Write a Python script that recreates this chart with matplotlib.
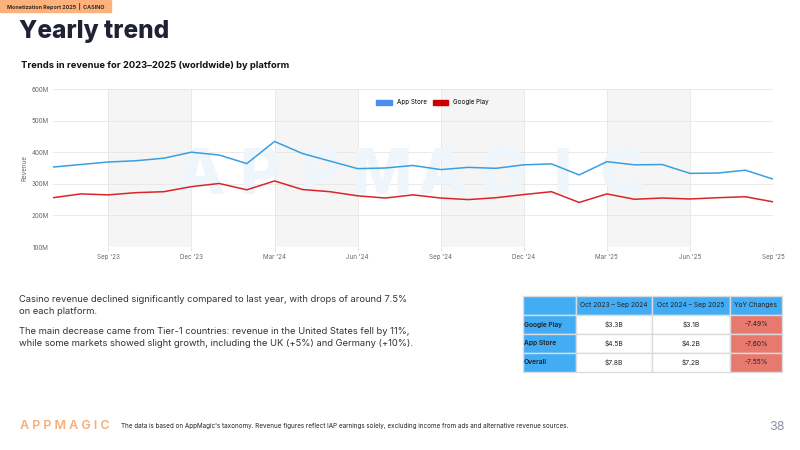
import numpy as np
import matplotlib.pyplot as plt
from matplotlib.patches import Rectangle, Patch

plt.rcParams['font.family'] = ['Inter', 'DejaVu Sans']

months = ["Jul '23", "Aug '23", "Sep '23", "Oct '23", "Nov '23", "Dec '23",
          "Jan '24", "Feb '24", "Mar '24", "Apr '24", "May '24", "Jun '24",
          "Jul '24", "Aug '24", "Sep '24", "Oct '24", "Nov '24", "Dec '24",
          "Jan '25", "Feb '25", "Mar '25", "Apr '25", "May '25", "Jun '25",
          "Jul '25", "Aug '25", "Sep '25"]
# revenue, millions USD
app_store = [353, 361, 369, 373, 381, 400, 391, 364, 434, 396, 372, 348, 350, 358,
             345, 352, 349, 360, 363, 328, 370, 360, 361, 333, 334, 343, 315]
google_play = [256, 268, 265, 272, 275, 291, 301, 281, 309, 282, 275, 262, 255, 265,
               255, 250, 256, 266, 275, 241, 268, 251, 255, 252, 256, 259, 243]
tick_months = ["Sep '23", "Dec '23", "Mar '24", "Jun '24", "Sep '24",
               "Dec '24", "Mar '25", "Jun '25", "Sep '25"]
shaded = [("Sep '23", "Dec '23"), ("Mar '24", "Jun '24"),
          ("Sep '24", "Dec '24"), ("Mar '25", "Jun '25")]

tbl_cols = ["", "Oct 2023 – Sep 2024", "Oct 2024 – Sep 2025", "YoY Changes"]
tbl_rows = ["Google Play", "App Store", "Overall"]
tbl_prev = ["$3.3B", "$4.5B", "$7.8B"]
tbl_curr = ["$3.1B", "$4.2B", "$7.2B"]
tbl_yoy = ["-7.49%", "-7.60%", "-7.55%"]

W, H = 800, 450
fig = plt.figure(figsize=(8, 4.5), dpi=100)


def fx(x):
    return x / W


def fy(y):
    return 1 - y / H


dark = '#1f2235'
# header tab
fig.patches.append(Rectangle((0, fy(12)), fx(111), 12 / H, transform=fig.transFigure,
                             color='#fdb17b', zorder=0))
fig.text(fx(7), fy(6.5), "Monetization Report 2025  |  CASINO", fontsize=3.9,
         fontweight='bold', color='#3a2c20', va='center')
fig.text(fx(19), fy(38), "Yearly trend", fontsize=17.5, fontweight='heavy',
         color=dark, va='baseline')
fig.text(fx(21), fy(68), "Trends in revenue for 2023–2025 (worldwide) by platform",
         fontsize=6.75, fontweight='bold', color='#111111', va='baseline')

# chart
ax = fig.add_axes([fx(53), fy(247), fx(773 - 53), (247 - 89) / H])
x = np.arange(len(months))
for a, b in shaded:
    ax.axvspan(months.index(a), months.index(b), color='#f5f5f5', lw=0, zorder=0)
ax.plot(x, app_store, color='#3a9fe0', lw=1.1, zorder=3)
ax.plot(x, google_play, color='#d9252a', lw=1.1, zorder=3)

wm = "APPMAGIC"
for i, ch in enumerate(wm):
    ax.text(fx(200 + i * 60.5), fy(177), ch, transform=fig.transFigure, fontsize=46,
            fontweight='heavy', color='#eef6fc', ha='center', va='center', zorder=1)

ax.set_xlim(0, len(months) - 1)
ax.set_ylim(100, 600)
ax.set_yticks([100, 200, 300, 400, 500, 600])
ax.set_yticklabels([f"{v}M" for v in [100, 200, 300, 400, 500, 600]])
ax.set_xticks([months.index(m) for m in tick_months])
ax.set_xticklabels(tick_months)
ax.grid(True, color='#e6e6e6', lw=0.6, zorder=0.5)
ax.set_axisbelow(True)
for s in ax.spines.values():
    s.set_visible(False)
ax.tick_params(axis='x', length=3, color='#e6e6e6', labelsize=4.5, labelcolor='#666666', pad=2)
ax.tick_params(axis='y', length=0, labelsize=4.5, labelcolor='#666666', pad=3)
ax.set_ylabel("Revenue", fontsize=4.5, color='#666666', labelpad=3)
ax.legend(handles=[Patch(color='#4a8cf0', label='App Store'),
                   Patch(color='#cc0000', label='Google Play')],
          loc='upper center', bbox_to_anchor=(0.527, 0.97), ncol=2, frameon=False,
          fontsize=4.5, handlelength=2.5, handleheight=0.9, columnspacing=1.0)

# body text
body = ["Casino revenue declined significantly compared to last year, with drops of around 7.5%",
        "on each platform.",
        "The main decrease came from Tier-1 countries: revenue in the United States fell by 11%,",
        "while some markets showed slight growth, including the UK (+5%) and Germany (+10%)."]
for line, yb in zip(body, [302, 314, 334, 346]):
    fig.text(fx(19), fy(yb), line, fontsize=6.75, color='#333333', va='baseline')

# table
tax = fig.add_axes([fx(523), fy(372), fx(782 - 523), (372 - 296) / H])
tax.axis('off')
cells = [tbl_cols] + [[r, p, c, y] for r, p, c, y in zip(tbl_rows, tbl_prev, tbl_curr, tbl_yoy)]
tb = tax.table(cellText=cells, bbox=[0, 0, 1, 1],
               colWidths=[53, 76, 78, 52], cellLoc='center')
tb.auto_set_font_size(False)
blue = '#42adf4'
for (r, c), cell in tb.get_celld().items():
    cell.set_edgecolor('#dcdcdc')
    cell.set_linewidth(1.0)
    cell.set_text_props(fontsize=4.8, color='#222222')
    if r == 0 or c == 0:
        cell.set_facecolor(blue)
    elif c == 3:
        cell.set_facecolor('#e8796f')
    else:
        cell.set_facecolor('white')
    if c == 0 and r > 0:
        cell.set_text_props(ha='left', fontweight='semibold')
        cell.PAD = 0.02

# footer
fig.text(fx(20), fy(429), "A P P M A G I C", fontsize=9, fontweight='semibold',
         color='#f7ad78', va='baseline')
fig.text(fx(121), fy(428), "The data is based on AppMagic's taxonomy. Revenue figures reflect IAP "
         "earnings solely, excluding income from ads and alternative revenue sources.",
         fontsize=4.55, color='#222222', va='baseline')
fig.text(fx(785), fy(430), "38", fontsize=9, color='#8a93a8', va='baseline', ha='right')

fig.savefig('out.png', dpi=100)
